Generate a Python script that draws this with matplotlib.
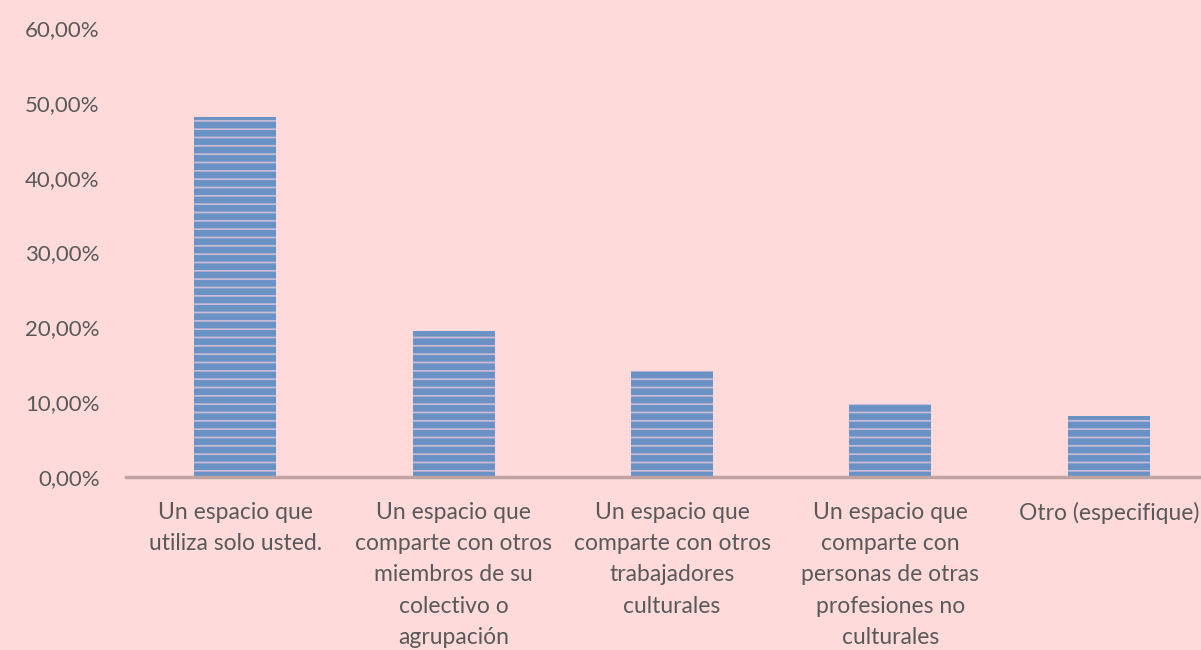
import matplotlib.pyplot as plt
import matplotlib as mpl

categories = [
    "Un espacio que\nutiliza solo usted.",
    "Un espacio que\ncomparte con otros\nmiembros de su\ncolectivo o\nagrupación",
    "Un espacio que\ncomparte con otros\ntrabajadores\nculturales",
    "Un espacio que\ncomparte con\npersonas de otras\nprofesiones no\nculturales",
    "Otro (especifique)",
]
values = [48.1, 19.5, 14.2, 9.8, 8.2]
yticks = [0, 10, 20, 30, 40, 50, 60]
yticklabels = ["0,00%", "10,00%", "20,00%", "30,00%", "40,00%", "50,00%", "60,00%"]

bg = "#FFDADA"
mpl.rcParams['hatch.linewidth'] = 1.3
plt.rcParams['font.family'] = ['Lato', 'DejaVu Sans']

fig = plt.figure(figsize=(12.01, 6.5), dpi=100)
fig.patch.set_facecolor(bg)
W, H = 1201, 650
left, right = 126, 1218
top, bottom = 28, 477
ax = fig.add_axes([left / W, 1 - bottom / H, (right - left) / W, (bottom - top) / H])
ax.set_facecolor(bg)

x = list(range(len(categories)))
ax.bar(x, values, width=0.375, color="#6A92C4", edgecolor="#C9BBD6",
       hatch="--", linewidth=0)
ax.set_xlim(-0.5, len(categories) - 0.5)
ax.set_ylim(0, 60)
ax.set_yticks(yticks)
ax.set_yticklabels(yticklabels)
ax.set_xticks(x)
ax.set_xticklabels(categories, linespacing=1.6)

for s in ["top", "right", "left"]:
    ax.spines[s].set_visible(False)
ax.spines["bottom"].set_color("#BFA3A3")
ax.spines["bottom"].set_linewidth(2.5)
ax.tick_params(axis="both", length=0, colors="#595959")
ax.tick_params(axis="y", pad=19, labelsize=16)
ax.tick_params(axis="x", pad=18, labelsize=16.5)
for lbl in ax.get_xticklabels():
    lbl.set_verticalalignment("top")

fig.savefig("out.png", dpi=100, facecolor=bg)
